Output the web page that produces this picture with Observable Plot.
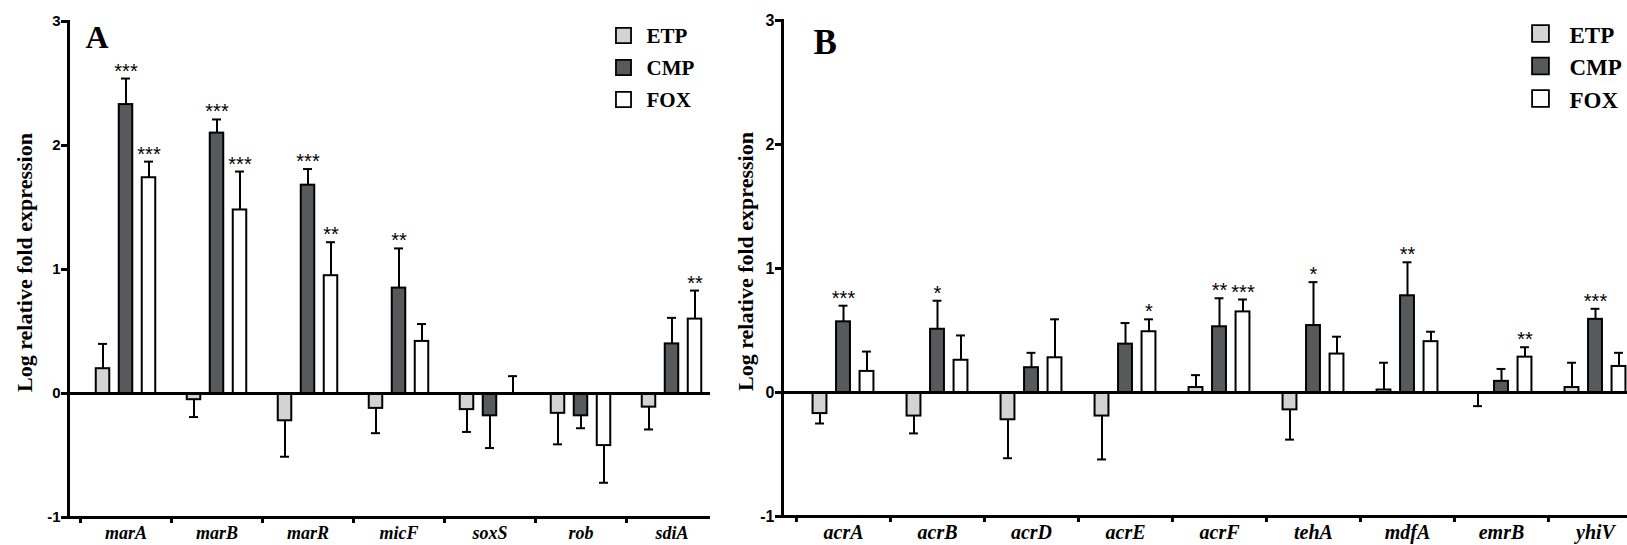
<!DOCTYPE html>
<html><head><meta charset="utf-8">
<script src="https://cdn.jsdelivr.net/npm/d3@7"></script>
<script src="https://cdn.jsdelivr.net/npm/@observablehq/plot@0.6"></script>
<style>
body{margin:0;background:#fff;}
#wrap{position:relative;width:1627px;height:545px;overflow:hidden;background:#fff;}
#a{position:absolute;left:0;top:0}
#b{position:absolute;left:725px;top:0}
svg{overflow:hidden}
</style></head><body><div id="wrap"><div id="a"></div><div id="b"></div></div>
<script>
const series = ["ETP", "CMP", "FOX"];
const seriesFill = ["#d3d3d3", "#58595b", "#ffffff"];
const yTicks = [-1, 0, 1, 2, 3];
const yLabel = "Log relative fold expression";

// Panel A
const genesA = ["marA", "marB", "marR", "micF", "soxS", "rob", "sdiA"];
const etpA = [0.20, -0.05, -0.22, -0.12, -0.13, -0.16, -0.11];
const etpErrA = [0.20, 0.14, 0.29, 0.20, 0.18, 0.25, 0.18];
const cmpA = [2.33, 2.10, 1.68, 0.85, -0.18, -0.18, 0.40];
const cmpErrA = [0.21, 0.11, 0.13, 0.32, 0.26, 0.10, 0.21];
const foxA = [1.74, 1.48, 0.95, 0.42, 0.00, -0.42, 0.60];
const foxErrA = [0.13, 0.31, 0.27, 0.14, 0.14, 0.30, 0.23];
const etpStarsA = ["", "", "", "", "", "", ""];
const cmpStarsA = ["***", "***", "***", "**", "", "", ""];
const foxStarsA = ["***", "***", "**", "", "", "", "**"];

// Panel B
const genesB = ["acrA", "acrB", "acrD", "acrE", "acrF", "tehA", "mdfA", "emrB", "yhiV"];
const etpB = [-0.17, -0.19, -0.22, -0.19, 0.04, -0.14, 0.02, -0.005, 0.04];
const etpErrB = [0.08, 0.14, 0.31, 0.35, 0.10, 0.24, 0.22, 0.105, 0.20];
const cmpB = [0.57, 0.51, 0.20, 0.39, 0.53, 0.54, 0.78, 0.09, 0.59];
const cmpErrB = [0.13, 0.23, 0.12, 0.17, 0.23, 0.35, 0.27, 0.10, 0.085];
const foxB = [0.17, 0.26, 0.28, 0.49, 0.65, 0.31, 0.41, 0.285, 0.21];
const foxErrB = [0.16, 0.20, 0.31, 0.10, 0.10, 0.14, 0.08, 0.08, 0.11];
const etpStarsB = ["", "", "", "", "", "", "", "", ""];
const cmpStarsB = ["***", "*", "", "", "**", "*", "**", "", "***"];
const foxStarsB = ["", "", "", "*", "***", "", "", "**", ""];

function buildRows(genes, vals, errs, stars) {
  const out = [];
  series.forEach((s, k) => genes.forEach((g, i) => {
    const v = vals[k][i], e = errs[k][i];
    out.push({gene: g, series: s, value: v, end: v + (v < 0 ? -e : e), star: stars[k][i]});
  }));
  return out;
}

const SERIF = "'Liberation Serif', 'Times New Roman', serif";
const SANS = "'Liberation Sans', Arial, sans-serif";

function panel(cfg) {
  const data = buildRows(cfg.genes, cfg.vals, cfg.errs, cfg.stars);
  const left = cfg.marginLeft + cfg.insetLeft;
  const right = cfg.width - cfg.marginRight - cfg.insetRight;
  const bw = (right - left) / cfg.genes.length;
  const offs = [-cfg.off, 0, cfg.off];
  const barInset = (bw - cfg.barW) / 2;
  const capInset = (bw - cfg.capW) / 2;
  const marks = [];
  series.forEach((s, k) => {
    const d = data.filter(r => r.series === s);
    marks.push(Plot.ruleX(d, {x: "gene", y1: "value", y2: "end", dx: offs[k], stroke: "#000", strokeWidth: 2}));
    marks.push(Plot.tickY(d, {x: "gene", y: "end", dx: offs[k], stroke: "#000", strokeWidth: 2, insetLeft: capInset, insetRight: capInset}));
    marks.push(Plot.barY(d, {x: "gene", y: "value", fill: seriesFill[k], stroke: "#000", strokeWidth: 2, dx: offs[k], insetLeft: barInset, insetRight: barInset}));
    marks.push(Plot.text(d.filter(r => r.star), {x: "gene", y: "end", text: "star", dx: offs[k], dy: -1, lineAnchor: "bottom", fontSize: cfg.starSize, fontFamily: SANS, fill: "#000"}));
  });
  marks.push(Plot.ruleY([0], {stroke: "#000", strokeWidth: 3}));
  marks.push(Plot.ruleY([-1], {stroke: "#000", strokeWidth: 3}));
  marks.push(Plot.frame({anchor: "left", stroke: "#000", strokeWidth: 3}));
  marks.push(Plot.axisY(yTicks, {tickSize: 7, tickPadding: 1, strokeWidth: 3, tickFormat: d => String(d), fontSize: cfg.tickFont, fontWeight: "bold", fontFamily: SANS, label: null, fill: "#000"}));
  marks.push(Plot.axisX({tickSize: 6, strokeWidth: 3, tickFormat: () => "", dx: -bw / 2, label: null}));
  marks.push(Plot.axisX({tickSize: 0, tickPadding: cfg.labelPad, fontSize: cfg.geneFont, fontStyle: "italic", fontWeight: "bold", fontFamily: SERIF, label: null, fill: "#000"}));
  marks.push(Plot.text([yLabel], {frameAnchor: "left", rotate: -90, dx: cfg.ylabDx, dy: cfg.ylabDy, textAnchor: "middle", lineAnchor: "middle", fontSize: 22, fontWeight: "bold", fontFamily: SERIF, fill: "#000"}));
  marks.push(Plot.text([cfg.letter], {frameAnchor: "top-left", dx: cfg.letterDx, dy: cfg.letterDy, textAnchor: "start", lineAnchor: "bottom", fontSize: cfg.letterSize, fontWeight: "bold", fontFamily: SERIF, fill: "#000"}));
  series.forEach((s, k) => {
    marks.push(Plot.dot([s], {frameAnchor: "top-left", symbol: "square", r: cfg.legR, fill: seriesFill[k], stroke: "#000", strokeWidth: 1.8,
      dx: cfg.legX, dy: cfg.legY + k * cfg.legStep}));
    marks.push(Plot.text([s], {frameAnchor: "top-left", textAnchor: "start", lineAnchor: "bottom", fontSize: cfg.legFont, fontWeight: "bold", fontFamily: SERIF, fill: "#000",
      dx: cfg.legTextX, dy: cfg.legY + cfg.legBase + k * cfg.legStep}));
  });
  return Plot.plot({
    width: cfg.width, height: 545,
    marginLeft: cfg.marginLeft, marginRight: cfg.marginRight, marginTop: cfg.marginTop, marginBottom: cfg.marginBottom,
    x: {domain: cfg.genes, padding: 0, insetLeft: cfg.insetLeft, insetRight: cfg.insetRight},
    y: {domain: [-1, 3]},
    style: {background: "#fff", color: "#000", overflow: "hidden"},
    marks
  });
}

document.getElementById("a").append(panel({
  genes: genesA, vals: [etpA, cmpA, foxA], errs: [etpErrA, cmpErrA, foxErrA], stars: [etpStarsA, cmpStarsA, foxStarsA],
  width: 725, marginLeft: 68, marginRight: 15, marginTop: 21, marginBottom: 28, insetLeft: 12, insetRight: -7,
  off: 23, barW: 13.5, capW: 9, starSize: 20, tickFont: 15, geneFont: 18, labelPad: 9,
  ylabDx: -44, ylabDy: -7, letter: "A", letterDx: 17, letterDy: 26, letterSize: 32,
  legR: 8.5, legX: 555, legY: 14, legStep: 32, legTextX: 578, legBase: 7.5, legFont: 21
}));
document.getElementById("b").append(panel({
  genes: genesB, vals: [etpB, cmpB, foxB], errs: [etpErrB, cmpErrB, foxErrB], stars: [etpStarsB, cmpStarsB, foxStarsB],
  width: 902, marginLeft: 57, marginRight: 0, marginTop: 20, marginBottom: 29, insetLeft: 13, insetRight: -15,
  off: 23.5, barW: 14, capW: 9, starSize: 20, tickFont: 16, geneFont: 20, labelPad: 8,
  ylabDx: -37, ylabDy: -7, letter: "B", letterDx: 31, letterDy: 33, letterSize: 35,
  legR: 9.5, legX: 758, legY: 13, legStep: 32.5, legTextX: 787, legBase: 9, legFont: 23
}));
</script>
</body></html>
